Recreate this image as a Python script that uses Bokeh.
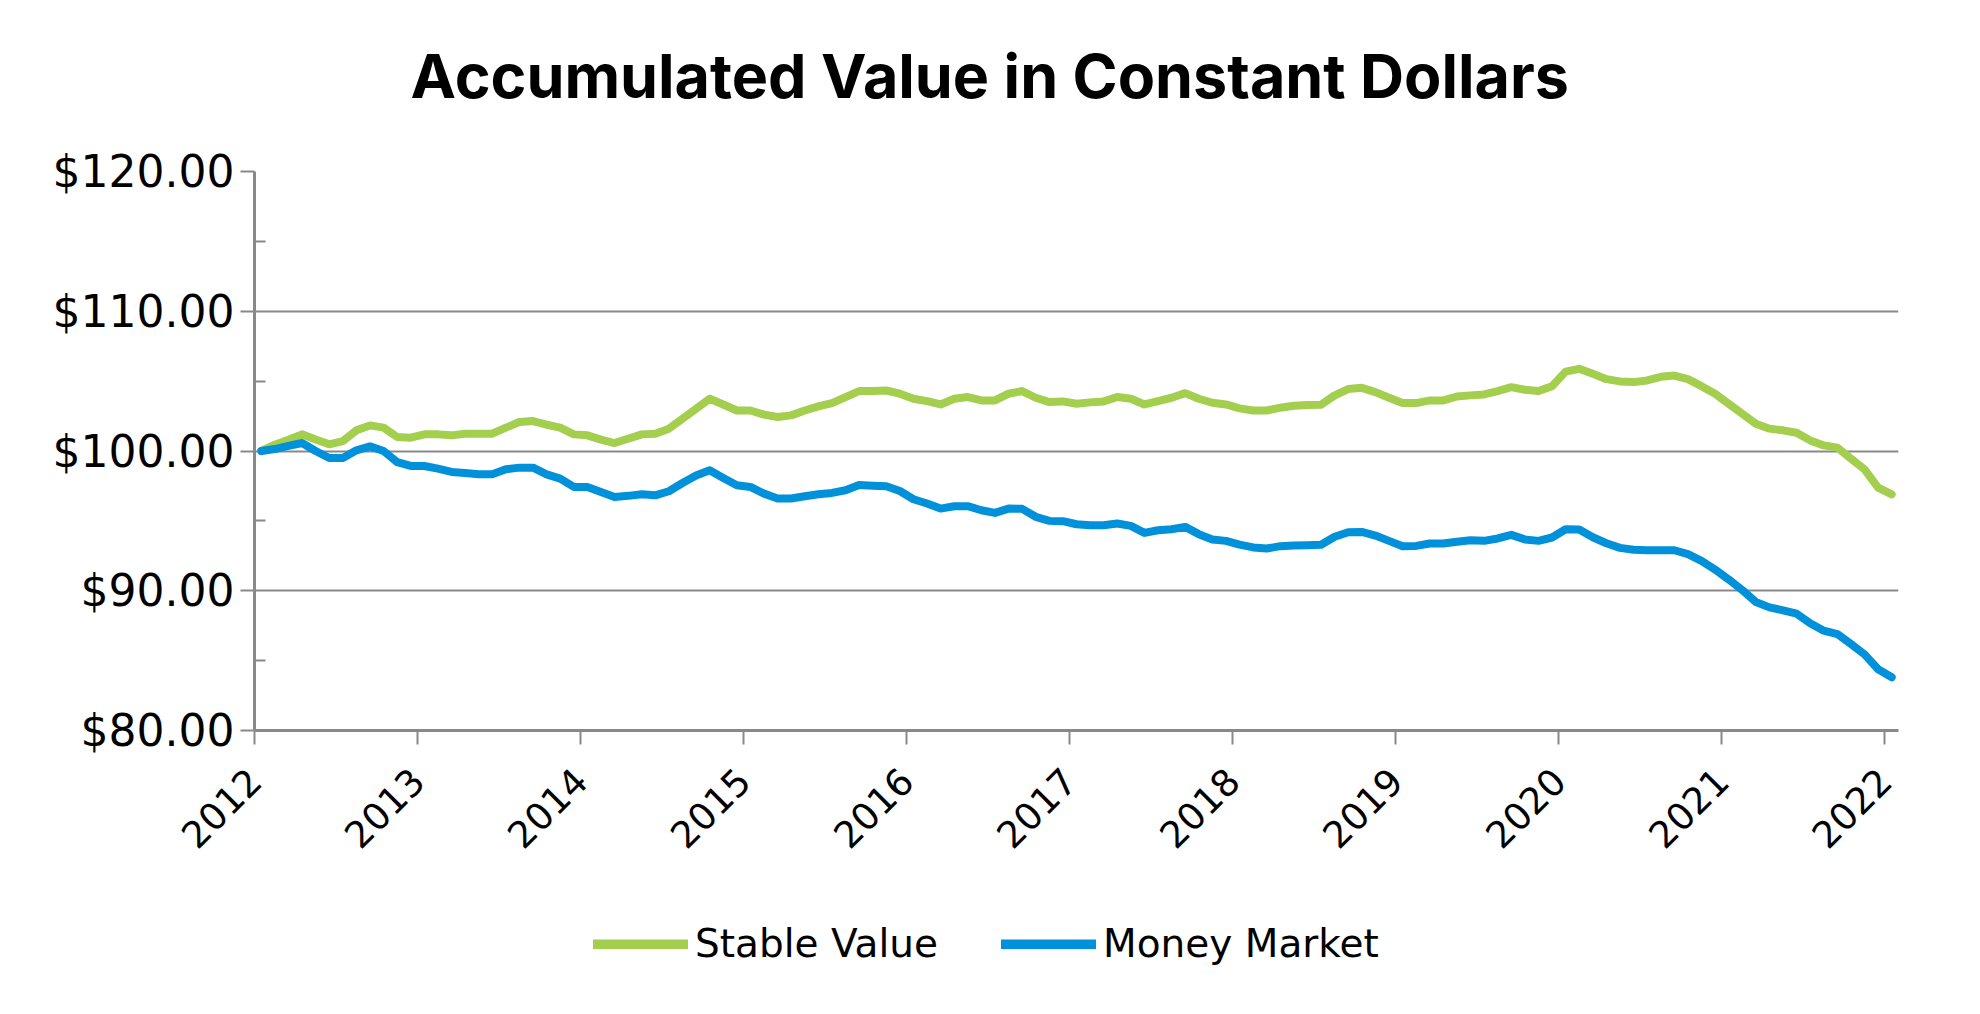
import pandas as pd
from bokeh.plotting import figure
from bokeh.layouts import column
from bokeh.models import (Range1d, FixedTicker, NumeralTickFormatter, Legend, LegendItem,
                          Title, ColumnDataSource)
from bokeh.embed import file_html
from bokeh.resources import INLINE

# ---- data (monthly, Jan 2012 - Jan 2022) ----
months = pd.date_range("2012-01-01", "2022-01-01", freq="MS")

stable_value = [
    100.00, 100.45, 100.80, 101.19, 100.83, 100.48, 100.71, 101.48, 101.83, 101.67, 101.00, 100.95,
    101.19, 101.19, 101.12, 101.24, 101.24, 101.24, 101.67, 102.07, 102.14, 101.88, 101.67, 101.19,
    101.12, 100.81, 100.57, 100.88, 101.19, 101.24, 101.60, 102.31, 103.02, 103.74, 103.33, 102.90,
    102.90, 102.60, 102.43, 102.55, 102.90, 103.19, 103.43, 103.86, 104.29, 104.29, 104.33, 104.10,
    103.74, 103.57, 103.33, 103.74, 103.86, 103.62, 103.62, 104.10, 104.29, 103.81, 103.50, 103.55,
    103.38, 103.48, 103.55, 103.86, 103.74, 103.33, 103.57, 103.81, 104.14, 103.74, 103.45, 103.33,
    103.05, 102.90, 102.90, 103.10, 103.24, 103.29, 103.31, 103.98, 104.43, 104.52, 104.21, 103.81,
    103.43, 103.43, 103.62, 103.62, 103.90, 103.98, 104.05, 104.29, 104.57, 104.38, 104.29, 104.64,
    105.68, 105.88, 105.52, 105.14, 104.98, 104.93, 105.05, 105.31, 105.40, 105.14, 104.64, 104.10,
    103.38, 102.67, 101.95, 101.60, 101.48, 101.31, 100.76, 100.40, 100.24, 99.45, 98.69, 97.38,
    96.90,
]

money_market = [
    100.00, 100.14, 100.36, 100.57, 100.00, 99.50, 99.50, 100.05, 100.33, 100.00, 99.21, 98.93,
    98.93, 98.74, 98.50, 98.43, 98.33, 98.33, 98.69, 98.81, 98.81, 98.33, 98.02, 97.43,
    97.43, 97.07, 96.71, 96.79, 96.90, 96.83, 97.12, 97.71, 98.24, 98.62, 98.07, 97.55,
    97.43, 96.95, 96.60, 96.60, 96.76, 96.90, 97.00, 97.19, 97.57, 97.52, 97.48, 97.14,
    96.55, 96.24, 95.88, 96.05, 96.05, 95.76, 95.57, 95.88, 95.86, 95.29, 95.00, 94.98,
    94.76, 94.69, 94.69, 94.81, 94.64, 94.14, 94.33, 94.40, 94.57, 94.05, 93.67, 93.57,
    93.30, 93.10, 93.02, 93.19, 93.24, 93.26, 93.29, 93.86, 94.19, 94.21, 93.95, 93.57,
    93.19, 93.21, 93.38, 93.38, 93.50, 93.62, 93.57, 93.74, 94.00, 93.67, 93.57, 93.81,
    94.40, 94.38, 93.83, 93.40, 93.07, 92.93, 92.90, 92.90, 92.90, 92.62, 92.14, 91.52,
    90.81, 90.05, 89.19, 88.81, 88.60, 88.36, 87.67, 87.14, 86.90, 86.19, 85.45, 84.38,
    83.81,
]

year_ticks = list(range(2012, 2023))
y_ticks = [80, 90, 100, 110, 120]
y_minor_ticks = [85, 95, 105, 115]
series_names = ["Stable Value", "Money Market"]
colors = ["#A4CE4E", "#0091DA"]
title_text = "Accumulated Value in Constant Dollars"

# mid-month position on a fractional-year axis
x = [m.year + (m.month - 0.5) / 12 for m in months]
src = ColumnDataSource(dict(x=x, sv=stable_value, mm=money_market))

GRAY = "#898989"
FONT = "DejaVu Sans"
W = 1972


def strip(height, top):
    f = figure(width=W, height=height, output_backend="svg", toolbar_location=None,
               x_range=Range1d(0, 1), y_range=Range1d(0, 1),
               x_axis_type=None, y_axis_type=None,
               min_border_left=0, min_border_right=0, min_border_top=top, min_border_bottom=0)
    f.outline_line_color = None
    f.xgrid.visible = False
    f.ygrid.visible = False
    return f


# ---- title strip ----
tf = strip(122, 120)
tf.title = Title(text=title_text, align="left", offset=156, standoff=16,
                 text_font="Inter", text_font_style="bold", text_font_size="61px",
                 text_color="black")

# ---- main chart ----
p = figure(width=W, height=758, output_backend="svg", toolbar_location=None,
           x_range=Range1d(2012, 2022 + 1 / 12), y_range=Range1d(80, 120),
           min_border_left=254, min_border_right=74, min_border_top=49, min_border_bottom=150)
p.outline_line_color = None
p.background_fill_color = "white"
p.border_fill_color = "white"

p.xgrid.grid_line_color = None
p.ygrid.ticker = FixedTicker(ticks=y_ticks)
p.ygrid.grid_line_color = GRAY
p.ygrid.grid_line_width = 2

yax = p.yaxis[0]
yax.ticker = FixedTicker(ticks=y_ticks, minor_ticks=y_minor_ticks)
yax.formatter = NumeralTickFormatter(format="$0.00")
yax.axis_line_color = GRAY
yax.axis_line_width = 3
yax.major_tick_line_color = GRAY
yax.major_tick_line_width = 2
yax.major_tick_out = 14
yax.major_tick_in = 0
yax.minor_tick_line_color = GRAY
yax.minor_tick_line_width = 2
yax.minor_tick_in = 11
yax.minor_tick_out = 0
yax.major_label_standoff = 6
yax.major_label_text_font = FONT
yax.major_label_text_font_size = "44px"
yax.major_label_text_color = "black"

xax = p.xaxis[0]
xax.ticker = FixedTicker(ticks=year_ticks)
xax.major_label_overrides = {t: str(t) for t in year_ticks}
xax.axis_line_color = GRAY
xax.axis_line_width = 3
xax.major_tick_line_color = GRAY
xax.major_tick_line_width = 2
xax.major_tick_out = 14
xax.major_tick_in = 0
xax.minor_tick_line_color = None
xax.major_label_orientation = 0.785398
xax.major_label_standoff = 30
xax.major_label_text_font = FONT
xax.major_label_text_font_size = "37px"
xax.major_label_text_color = "black"

p.line("x", "sv", source=src, line_color=colors[0], line_width=8,
       line_cap="round", line_join="round")
p.line("x", "mm", source=src, line_color=colors[1], line_width=8,
       line_cap="round", line_join="round")

# ---- legend strip below the chart (frames are aligned by the column layout) ----
lg = strip(126, 0)
# one-point lines (draw nothing) that only carry the legend styling
k1 = lg.line(x=x[:1], y=stable_value[:1], line_color=colors[0], line_width=10, line_cap="round")
k2 = lg.line(x=x[:1], y=money_market[:1], line_color=colors[1], line_width=10, line_cap="round")
legend = Legend(items=[LegendItem(label=series_names[0], renderers=[k1]),
                       LegendItem(label=series_names[1], renderers=[k2])],
                orientation="horizontal", location=(339, 40),
                glyph_width=95, glyph_height=10, label_standoff=7, spacing=63,
                padding=0, margin=0, border_line_color=None, background_fill_alpha=0,
                label_text_font=FONT, label_text_font_size="39px", label_text_color="black")
lg.add_layout(legend, "center")

layout = column(tf, p, lg, spacing=0)
open("out.html", "w").write(file_html(layout, INLINE))
